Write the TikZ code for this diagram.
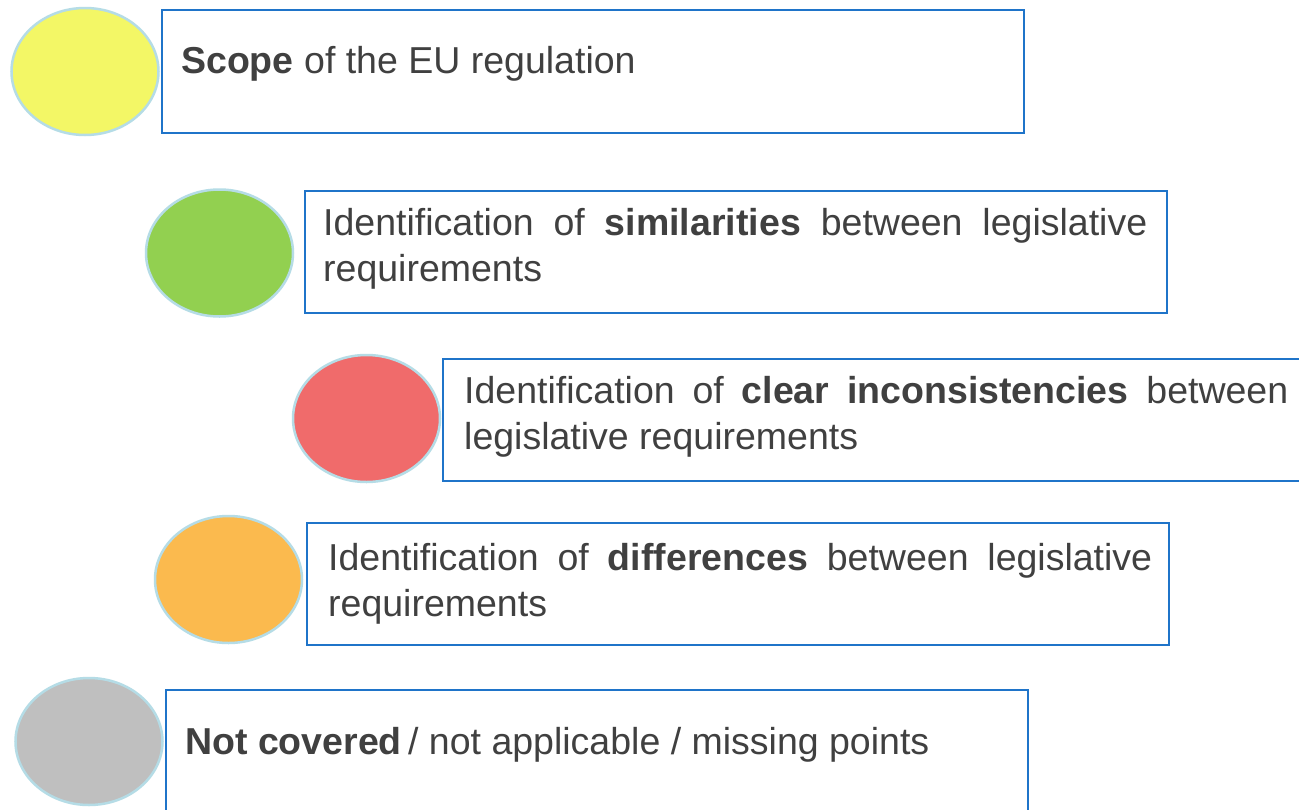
\documentclass[tikz,border=0pt]{standalone}
\usepackage{fontspec}
\setmainfont{Liberation Sans}
\usetikzlibrary{shapes.geometric}
\definecolor{txt}{HTML}{404040}
\definecolor{boxblue}{HTML}{1F74C9}
\definecolor{ringblue}{HTML}{B5DCE6}
\definecolor{cyellow}{HTML}{F3F766}
\definecolor{cgreen}{HTML}{92D050}
\definecolor{cred}{HTML}{F06B6B}
\definecolor{corange}{HTML}{FBBA4E}
\definecolor{cgray}{HTML}{BFBFBF}
\tikzset{
  dot/.style={ellipse, draw=ringblue, line width=2.5pt, minimum width=147pt, minimum height=127pt, inner sep=0pt},
  panel/.style={draw=boxblue, line width=2pt, anchor=north west, minimum height=123pt, inner sep=0pt},
  label/.style={anchor=base west, inner sep=0pt, text=txt, font=\fontsize{37.5}{46}\selectfont},
}
\newcommand{\jtext}[1]{\parbox[t]{824pt}{\fontsize{37.5}{46}\selectfont #1}}
\begin{document}
\begin{tikzpicture}[x=1pt,y=-1pt]
\useasboundingbox (0,0) rectangle (1299,809);
\clip (0,0) rectangle (1299,809);
\fill[white] (0,0) rectangle (1299,809);
% row 1
\node[dot, fill=cyellow] (c1) at (85,71.5) {};
\node[panel, minimum width=862pt] (b1) at (161,9) {};
\node[label] (t1) at (181,73) {\textbf{Scope} of the EU regulation};
% row 2
\node[dot, fill=cgreen] (c2) at (219.5,253) {};
\node[panel, minimum width=862pt, minimum height=122pt] (b2) at (304,190) {};
\node[label] (t2) at (323,235) {\jtext{Identification of \textbf{similarities} between legislative\linebreak requirements}};
% row 3
\node[dot, fill=cred] (c3) at (366.5,418.5) {};
\node[panel, minimum width=900pt, minimum height=122pt] (b3) at (442,358) {};
\node[label] (t3) at (464,403) {\jtext{Identification of \textbf{clear inconsistencies} between\linebreak legislative requirements}};
% row 4
\node[dot, fill=corange] (c4) at (228.5,579.5) {};
\node[panel, minimum width=862pt, minimum height=122pt] (b4) at (306,522) {};
\node[label] (t4) at (328,570) {\jtext{Identification of \textbf{differences} between legislative\linebreak requirements}};
% row 5
\node[dot, fill=cgray] (c5) at (89,741.5) {};
\node[panel, minimum width=862pt, minimum height=140pt] (b5) at (165,689) {};
\node[label] (t5) at (185,754) {\textbf{Not covered}\,/ not applicable / missing points};
\end{tikzpicture}
\end{document}
